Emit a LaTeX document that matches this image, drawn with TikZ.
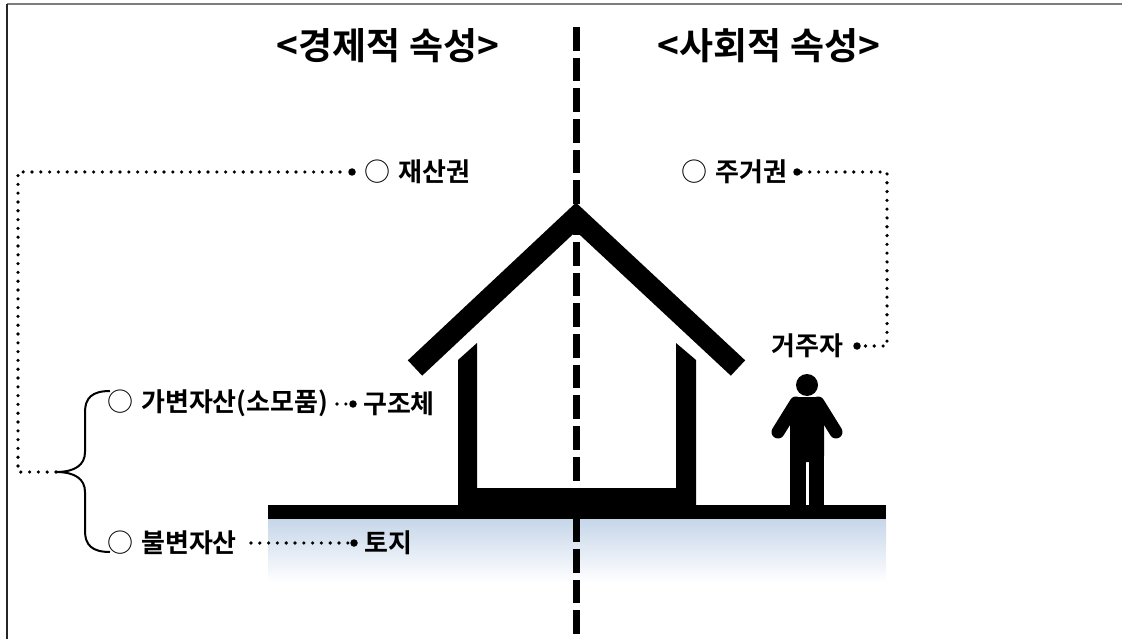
\documentclass[tikz,border=0pt]{standalone}
\usepackage{fontspec}
\newfontfamily\kr{Noto Sans CJK KR}[BoldFont={Noto Sans CJK KR Bold}]
\usepackage{tikz}
\usetikzlibrary{positioning}
\definecolor{groundblue}{RGB}{198,214,233}
\definecolor{framegray}{RGB}{125,125,125}
\newcommand{\itemmark}{{\mdseries ○}\hspace{8pt}}

\begin{document}
\begin{tikzpicture}[x=1pt, y=-1pt, node distance=6pt,
  every node/.style={font=\kr\bfseries\fontsize{26}{30}\selectfont, inner sep=0pt},
  headtext/.style={font=\kr\bfseries\fontsize{37}{42}\selectfont},
  dotline/.style={line width=3.6pt, line cap=round, dash pattern=on 0pt off 8.8pt},
  enddot/.style={circle, fill, minimum size=7.5pt, inner sep=0pt}]
\useasboundingbox (0,0) rectangle (1122,639);
% frame
\draw[framegray, line width=2.2pt] (7,4) -- (1122,4);
\draw[black!85, line width=2.2pt] (7,4) -- (7,639);
% ground shade and centre line
\shade[top color=groundblue, bottom color=white] (268,519) rectangle (886,582);
\draw[line width=7pt, dash pattern=on 23.7pt off 7pt] (576.5,27) -- (576.5,639);
% ground, house and roof
\fill (268,505) rectangle (886,519);
\fill (458,360) -- (477,343) -- (477,488) -- (676,488) -- (676,343) -- (696,360) -- (696,507) -- (458,507) -- cycle;
\draw[line width=21pt] (415,368) -- (576,217) -- (738,368);
% resident
\fill (807,385) circle (11pt);
\fill[rounded corners=6pt] (790,397) rectangle (824,462);
\draw[line width=13pt, line cap=round] (796,403) -- (778,432);
\draw[line width=13pt, line cap=round] (818,403) -- (836,432);
\fill (790,455) rectangle (806,507);
\fill (809,455) rectangle (824,507);

% headings
\node[headtext] (econ) at (388,46) {<경제적 속성>};
\node[headtext] (soc) at (769,46) {<사회적 속성>};

% economic side
\node[anchor=west] (prop) at (364,172) {\itemmark 재산권};
\node[anchor=west] (var) at (107,403) {\itemmark 가변자산(소모품)};
\node[anchor=west] (fix) at (107,543) {\itemmark 불변자산};
\node[enddot] (d1) at (352,172) {};
\node[enddot] (d4) at (353,404) {};
\node[enddot] (d5) at (354,543) {};
\node[right=of d4] (struct) {구조체};
\node[right=of d5] (land) {토지};
\coordinate (c1) at (18,172);
\coordinate (c2) at (18,472);
\coordinate (bt) at (56,472);
\coordinate (s4) at (337,404);
\coordinate (s5) at (251,543);
\draw[dotline] (bt) -- (c2) -- (c1) -- (d1);
\draw[dotline] (s4) -- (d4);
\draw[dotline] (s5) -- (d5);
\draw[line width=2pt] (110,391) .. controls (92,391) and (85,398) .. (85,412) -- (85,452)
  .. controls (85,465) and (75,472) .. (bt)
  .. controls (75,472) and (85,479) .. (85,492) -- (85,531)
  .. controls (85,545) and (92,552) .. (110,552);

% social side
\node[anchor=west] (right) at (681,172) {\itemmark 주거권};
\node[anchor=west] (res) at (771,346) {거주자};
\node[enddot] (d2) at (797,172) {};
\node[enddot] (d3) at (857,346) {};
\coordinate (c3) at (887,172);
\coordinate (c4) at (887,346);
\draw[dotline] (d2) -- (c3) -- (c4) -- (d3);
\end{tikzpicture}
\end{document}
